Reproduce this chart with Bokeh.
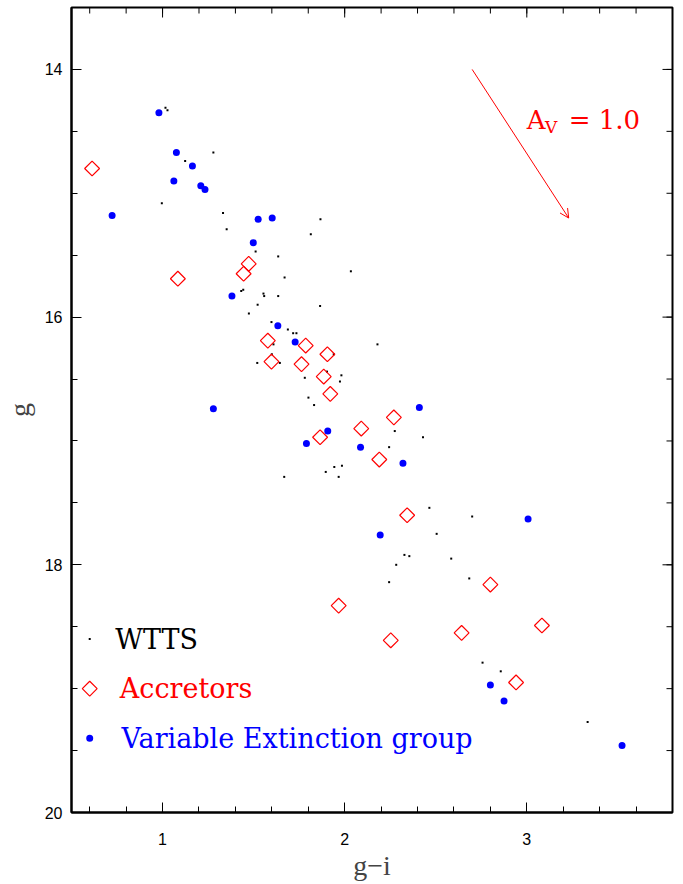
import numpy as np
from bokeh.plotting import figure
from bokeh.models import Range1d, LinearAxis, FixedTicker, Arrow, OpenHead, Label
from bokeh.embed import file_html
from bokeh.resources import INLINE

# ---------------- data ----------------
wtts_gi = [1.016, 1.027, 1.279, 1.124, 0.996, 1.332, 1.352, 1.867, 1.814, 1.511,
           1.635, 2.034, 1.670, 1.432, 1.443, 1.554, 1.558, 1.635, 1.522, 1.865,
           1.474, 1.598, 1.688, 1.717, 1.735, 1.609, 1.600, 1.644, 1.520, 1.940,
           2.180, 1.903, 1.982, 1.974, 1.781, 1.801, 1.832, 1.896, 1.943, 1.985,
           1.967, 1.668, 2.275, 2.430, 2.244, 2.465, 2.700, 2.505, 2.328, 2.355,
           2.585, 2.283, 2.244, 2.684, 2.757, 2.857, 3.334]
wtts_g = [14.31, 14.33, 14.67, 14.74, 15.08, 15.16, 15.29, 15.21, 15.33, 15.47,
          15.51, 15.63, 15.68, 15.79, 15.78, 15.81, 15.83, 15.83, 15.90, 15.91,
          15.97, 16.04, 16.10, 16.13, 16.13, 16.22, 16.30, 16.37, 16.37, 16.30,
          16.22, 16.44, 16.47, 16.52, 16.49, 16.65, 16.71, 17.25, 17.21, 17.20,
          17.29, 17.29, 16.92, 16.97, 17.05, 17.54, 17.61, 17.75, 17.92, 17.93,
          17.95, 18.00, 18.14, 18.11, 18.79, 18.86, 19.27]

acc_gi = [0.613, 1.084, 1.473, 1.445, 1.578, 1.786, 1.905, 1.598, 1.763, 1.885,
          1.921, 1.865, 2.091, 2.190, 2.270, 2.343, 1.967, 2.800, 2.253, 2.642,
          3.083, 2.941]
acc_g = [14.80, 15.69, 15.57, 15.65, 16.19, 16.23, 16.30, 16.36, 16.38, 16.48,
         16.62, 16.97, 16.90, 17.15, 16.81, 17.60, 18.33, 18.16, 18.61, 18.55,
         18.49, 18.95]

vext_gi = [0.980, 1.076, 1.164, 1.062, 1.210, 1.233, 0.723, 1.525, 1.602, 1.498,
           1.381, 1.633, 1.728, 1.279, 1.907, 1.790, 2.087, 2.195, 2.410, 2.320,
           3.007, 2.800, 2.875, 3.523]
vext_g = [14.35, 14.67, 14.78, 14.90, 14.94, 14.97, 15.18, 15.21, 15.20, 15.40,
          15.83, 16.07, 16.20, 16.74, 16.92, 17.02, 17.05, 17.76, 16.73, 17.18,
          17.63, 18.97, 19.10, 19.46]

x_major = [1, 2, 3]
y_major = [14, 16, 18, 20]
legend_labels = ["WTTS", "Accretors", "Variable Extinction group"]

# reddening vector for A_V = 1.0 (start point and displacement)
av_start = (2.70, 14.00)
av_delta = (0.53, 1.20)

X0, X1 = 0.5, 3.8
Y0, Y1 = 20.0, 13.5

# ---------------- figure ----------------
p = figure(width=683, height=884, output_backend="svg", toolbar_location=None,
           x_range=Range1d(X0, X1), y_range=Range1d(Y0, Y1),
           min_border_left=70, min_border_right=11, min_border_top=7,
           min_border_bottom=72, x_axis_location=None, y_axis_location=None,
           background_fill_color="white", border_fill_color="white")
p.grid.visible = False
p.outline_line_color = "black"
p.outline_line_width = 2

x_minor = [round(v, 1) for v in np.arange(0.6, 3.61, 0.2)]
y_minor = [round(v, 1) for v in np.arange(14.0, 20.01, 0.5)]


def style_axis(ax):
    ax.axis_line_width = 2
    ax.axis_line_color = "black"
    ax.major_tick_in = 10
    ax.major_tick_out = 0
    ax.minor_tick_in = 6
    ax.minor_tick_out = 0
    ax.major_tick_line_color = "black"
    ax.minor_tick_line_color = "black"
    ax.major_tick_line_width = 1
    ax.minor_tick_line_width = 1
    ax.major_label_text_font = "Liberation Sans"
    ax.major_label_text_font_size = "16px"
    ax.major_label_text_color = "black"


xb = LinearAxis(ticker=FixedTicker(ticks=x_major, minor_ticks=x_minor),
                axis_label="g\u2212i")
style_axis(xb)
xb.major_label_standoff = 20
xb.axis_label_text_font = "Liberation Serif"
xb.axis_label_text_font_size = "28px"
xb.axis_label_text_font_style = "normal"
xb.axis_label_standoff = 2
p.add_layout(xb, "below")

yl = LinearAxis(ticker=FixedTicker(ticks=y_major, minor_ticks=y_minor),
                axis_label="g")
style_axis(yl)
yl.major_label_standoff = 9
yl.major_label_text_baseline = "top"
yl.axis_label_text_font = "Liberation Serif"
yl.axis_label_text_font_size = "28px"
yl.axis_label_text_font_style = "normal"
yl.axis_label_standoff = 7
p.add_layout(yl, "left")

# mirrored inward ticks on the top and right frame edges (clipped to the frame)
p.scatter(x_major, [Y1] * len(x_major), marker="dash", angle=np.pi / 2, size=20,
          line_color="black", line_width=1)
p.scatter(x_minor, [Y1] * len(x_minor), marker="dash", angle=np.pi / 2, size=12,
          line_color="black", line_width=1)
p.scatter([X1] * len(y_major), y_major, marker="dash", size=20,
          line_color="black", line_width=1)
p.scatter([X1] * len(y_minor), y_minor, marker="dash", size=12,
          line_color="black", line_width=1)

# ---------------- data glyphs ----------------
p.scatter(wtts_gi, wtts_g, marker="square", size=2, fill_color="black",
          line_color=None)
p.scatter(acc_gi, acc_g, marker="square", angle=np.pi / 4, size=10.5,
          fill_color=None, line_color="#ff0000", line_width=1.2)
p.scatter(vext_gi, vext_g, marker="circle", size=7, fill_color="#0000ff",
          line_color=None)

# ---------------- legend (drawn in data space, as in the original) ----------------
leg_x = 0.6
leg_y = [18.6, 19.0, 19.4]
leg_text_x = [0.74, 0.765, 0.775]
leg_colors = ["black", "#ff0000", "#0000ff"]
p.scatter([leg_x], [leg_y[0]], marker="square", size=2, fill_color="black",
          line_color=None)
p.scatter([leg_x], [leg_y[1]], marker="square", angle=np.pi / 4, size=10.5,
          fill_color=None, line_color="#ff0000", line_width=1.2)
p.scatter([leg_x], [leg_y[2]], marker="circle", size=7, fill_color="#0000ff",
          line_color=None)
for lbl, ly, lx, c in zip(legend_labels, leg_y, leg_text_x, leg_colors):
    p.add_layout(Label(x=lx, y=ly, text=lbl, text_color=c,
                       text_font="DejaVu Serif", text_font_size="27px",
                       text_baseline="alphabetic"))

# ---------------- reddening arrow ----------------
p.add_layout(Arrow(end=OpenHead(size=9, line_color="#ff0000", line_width=1),
                   x_start=av_start[0], y_start=av_start[1],
                   x_end=av_start[0] + av_delta[0], y_end=av_start[1] + av_delta[1],
                   line_color="#ff0000", line_width=1))
p.add_layout(Label(x=3.0, y=14.41, text="A", text_color="#ff0000",
                   text_font="DejaVu Serif", text_font_size="26px",
                   text_baseline="alphabetic"))
p.add_layout(Label(x=3.10, y=14.465, text="V", text_color="#ff0000",
                   text_font="DejaVu Serif", text_font_size="17px",
                   text_baseline="alphabetic"))
p.add_layout(Label(x=3.23, y=14.41, text="= 1.0", text_color="#ff0000",
                   text_font="DejaVu Serif", text_font_size="26px",
                   text_baseline="alphabetic"))

open("out.html", "w").write(file_html(p, INLINE))
